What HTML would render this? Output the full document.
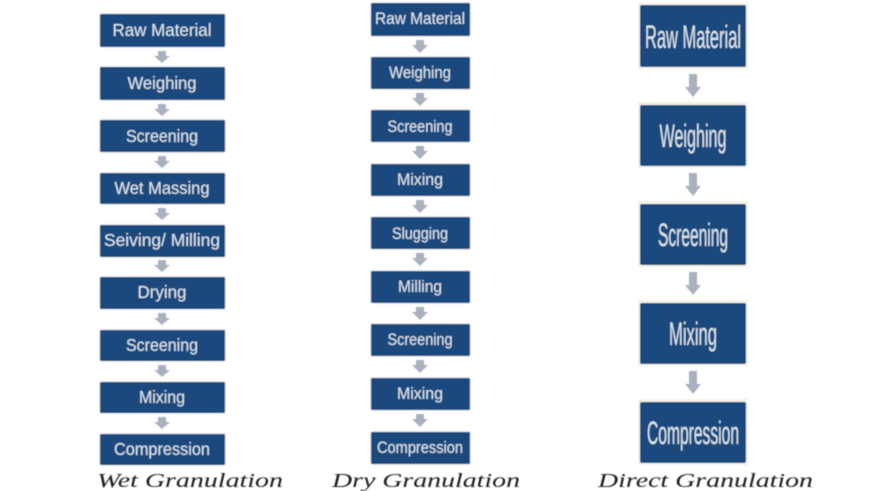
<!DOCTYPE html>
<html>
<head>
<meta charset="utf-8">
<style>
html,body{margin:0;padding:0;background:#fff;width:874px;height:491px;overflow:hidden}
svg{display:block}
.b{fill:#1f497d;stroke:#e6eaef;stroke-width:1}
.a{fill:#a9b1c0}
.t{fill:#dce6ee;font-family:"Liberation Sans",sans-serif;text-anchor:middle}
.c{fill:#1c1c1c;font-family:"Liberation Serif",serif;font-style:italic;font-size:20px}
</style>
</head>
<body>
<svg width="874" height="491" viewBox="0 0 874 491" xmlns="http://www.w3.org/2000/svg">
<defs><filter id="s" x="-5%" y="-5%" width="110%" height="110%"><feGaussianBlur stdDeviation="0.45"/></filter></defs>
<g filter="url(#s)">
<!-- Column 1 -->
<g>
<rect class="b" x="99.500" y="13.500" width="126" height="34" rx="2"/>
<rect class="b" x="99.500" y="66.500" width="126" height="34" rx="2"/>
<rect class="b" x="99.500" y="119.500" width="126" height="33" rx="2"/>
<rect class="b" x="99.500" y="172.500" width="126" height="32" rx="2"/>
<rect class="b" x="99.500" y="224.500" width="126" height="33" rx="2"/>
<rect class="b" x="99.500" y="276.500" width="126" height="33" rx="2"/>
<rect class="b" x="99.500" y="329.500" width="126" height="32" rx="2"/>
<rect class="b" x="99.500" y="381.500" width="126" height="32" rx="2"/>
<rect class="b" x="99.500" y="433.500" width="126" height="32" rx="2"/>
</g>
<g font-size="17.500">
<text class="t" x="162" y="36" textLength="99" lengthAdjust="spacingAndGlyphs">Raw Material</text>
<text class="t" x="162" y="89" textLength="69" lengthAdjust="spacingAndGlyphs">Weighing</text>
<text class="t" x="162" y="142" textLength="72" lengthAdjust="spacingAndGlyphs">Screening</text>
<text class="t" x="162" y="194" textLength="95" lengthAdjust="spacingAndGlyphs">Wet Massing</text>
<text class="t" x="162" y="246" textLength="116" lengthAdjust="spacingAndGlyphs">Seiving/ Milling</text>
<text class="t" x="162" y="298" textLength="49" lengthAdjust="spacingAndGlyphs">Drying</text>
<text class="t" x="162" y="351" textLength="72" lengthAdjust="spacingAndGlyphs">Screening</text>
<text class="t" x="162" y="403" textLength="46" lengthAdjust="spacingAndGlyphs">Mixing</text>
<text class="t" x="162" y="455" textLength="96" lengthAdjust="spacingAndGlyphs">Compression</text>
</g>
<g class="a">
<path d="M158 51h8v5h4l-8 7-8-7h4z"/>
<path d="M158 104h8v5h4l-8 7-8-7h4z"/>
<path d="M158 156h8v5h4l-8 7-8-7h4z"/>
<path d="M158 208h8v5h4l-8 7-8-7h4z"/>
<path d="M158 260h8v5h4l-8 7-8-7h4z"/>
<path d="M158 313h8v5h4l-8 7-8-7h4z"/>
<path d="M158 365h8v5h4l-8 7-8-7h4z"/>
<path d="M158 417h8v5h4l-8 7-8-7h4z"/>
</g>
<!-- Column 2 -->
<g>
<rect class="b" x="370.500" y="2.500" width="100" height="34" rx="2"/>
<rect class="b" x="370.500" y="56.500" width="100" height="33" rx="2"/>
<rect class="b" x="370.500" y="109.500" width="100" height="33" rx="2"/>
<rect class="b" x="370.500" y="163.500" width="100" height="33" rx="2"/>
<rect class="b" x="370.500" y="216.500" width="100" height="33" rx="2"/>
<rect class="b" x="370.500" y="270.500" width="100" height="33" rx="2"/>
<rect class="b" x="370.500" y="323.500" width="100" height="33" rx="2"/>
<rect class="b" x="370.500" y="377.500" width="100" height="33" rx="2"/>
<rect class="b" x="370.500" y="431.500" width="100" height="33" rx="2"/>
</g>
<g font-size="16.500">
<text class="t" x="420" y="24" textLength="90" lengthAdjust="spacingAndGlyphs">Raw Material</text>
<text class="t" x="420" y="78" textLength="62" lengthAdjust="spacingAndGlyphs">Weighing</text>
<text class="t" x="420" y="132" textLength="65" lengthAdjust="spacingAndGlyphs">Screening</text>
<text class="t" x="420" y="185" textLength="46" lengthAdjust="spacingAndGlyphs">Mixing</text>
<text class="t" x="420" y="239" textLength="56" lengthAdjust="spacingAndGlyphs">Slugging</text>
<text class="t" x="420" y="292" textLength="44" lengthAdjust="spacingAndGlyphs">Milling</text>
<text class="t" x="420" y="345" textLength="65" lengthAdjust="spacingAndGlyphs">Screening</text>
<text class="t" x="420" y="399" textLength="46" lengthAdjust="spacingAndGlyphs">Mixing</text>
<text class="t" x="420" y="453" textLength="86" lengthAdjust="spacingAndGlyphs">Compression</text>
</g>
<g class="a">
<path d="M416 40h8v5h4l-8 8-8-8h4z"/>
<path d="M416 93h8v5h4l-8 8-8-8h4z"/>
<path d="M416 146h8v5h4l-8 8-8-8h4z"/>
<path d="M416 200h8v5h4l-8 8-8-8h4z"/>
<path d="M416 253h8v5h4l-8 8-8-8h4z"/>
<path d="M416 307h8v5h4l-8 8-8-8h4z"/>
<path d="M416 360h8v5h4l-8 8-8-8h4z"/>
<path d="M416 414h8v5h4l-8 8-8-8h4z"/>
</g>
<!-- Column 3 -->
<g>
<rect x="638" y="3" width="110" height="66" fill="#f3f1e8"/>
<rect x="638" y="102" width="110" height="66" fill="#f3f1e8"/>
<rect x="638" y="201" width="110" height="66" fill="#f3f1e8"/>
<rect x="638" y="300" width="110" height="66" fill="#f3f1e8"/>
<rect x="638" y="399" width="110" height="66" fill="#f3f1e8"/>
<rect x="640" y="5" width="106" height="62" rx="2" fill="#1f497d"/>
<rect x="640" y="105" width="106" height="61" rx="2" fill="#1f497d"/>
<rect x="640" y="204" width="106" height="61" rx="2" fill="#1f497d"/>
<rect x="640" y="303" width="106" height="61" rx="2" fill="#1f497d"/>
<rect x="640" y="402" width="106" height="61" rx="2" fill="#1f497d"/>
</g>
<g font-size="32">
<text class="t" x="693" y="48" textLength="96" lengthAdjust="spacingAndGlyphs">Raw Material</text>
<text class="t" x="693" y="147" textLength="67" lengthAdjust="spacingAndGlyphs">Weighing</text>
<text class="t" x="693" y="246" textLength="70" lengthAdjust="spacingAndGlyphs">Screening</text>
<text class="t" x="693" y="345" textLength="48" lengthAdjust="spacingAndGlyphs">Mixing</text>
<text class="t" x="693" y="444" textLength="92" lengthAdjust="spacingAndGlyphs">Compression</text>
</g>
<g class="a">
<path d="M689 74h8v13h4l-8 10-8-10h4z"/>
<path d="M689 173h8v13h4l-8 10-8-10h4z"/>
<path d="M689 272h8v13h4l-8 10-8-10h4z"/>
<path d="M689 371h8v13h4l-8 10-8-10h4z"/>
</g>
<!-- Captions -->
<text class="c" x="97" y="487" textLength="186" lengthAdjust="spacingAndGlyphs">Wet Granulation</text>
<text class="c" x="332" y="487" textLength="188" lengthAdjust="spacingAndGlyphs">Dry Granulation</text>
<text class="c" x="598" y="487" textLength="215" lengthAdjust="spacingAndGlyphs">Direct Granulation</text>
</g>
</svg>
</body>
</html>
